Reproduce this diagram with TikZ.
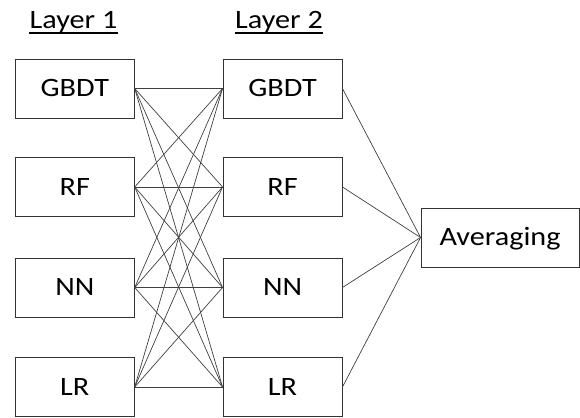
\documentclass[tikz,border=0pt]{standalone}
\usepackage{fontspec}
\setmainfont{Carlito}[FakeStretch=1.14]
\begin{document}
\begin{tikzpicture}[x=1pt,y=1pt,
  box/.style={draw=black!80, line width=0.9pt, minimum width=119pt, minimum height=59pt,
    inner sep=0pt, text height=17pt, text depth=0pt, font=\fontsize{26.5}{30}\selectfont},
  conn/.style={draw=black!75, line width=0.7pt},
  lab/.style={inner sep=0pt, anchor=base, font=\fontsize{26.5}{30}\selectfont}]
\useasboundingbox (0,0) rectangle (580,417);
% Layer labels
\node[lab] (lay1) at (73.5,388) {Layer 1};
\node[lab] (lay2) at (279,388) {Layer 2};
\draw[line width=1.3pt] ([yshift=-4pt]lay1.base west) -- ([yshift=-4pt]lay1.base east);
\draw[line width=1.3pt] ([yshift=-4pt]lay2.base west) -- ([yshift=-4pt]lay2.base east);
% Layer 1
\node[box] (a1) at (74.75,328.5) {GBDT};
\node[box] (a2) at (74.75,230) {RF};
\node[box] (a3) at (74.75,129.5) {NN};
\node[box] (a4) at (74.75,30) {LR};
% Layer 2
\node[box] (b1) at (282.5,328.5) {GBDT};
\node[box] (b2) at (282.5,230) {RF};
\node[box] (b3) at (282.5,129.5) {NN};
\node[box] (b4) at (282.5,30) {LR};
% Averaging
\node[box, minimum width=158pt] (avg) at (500,179.5) {Averaging};
% connections
\foreach \i in {1,...,4}{
  \foreach \j in {1,...,4}{
    \draw[conn] (a\i.east) -- (b\j.west);
  }
  \draw[conn] (b\i.east) -- (avg.west);
}
\end{tikzpicture}
\end{document}
